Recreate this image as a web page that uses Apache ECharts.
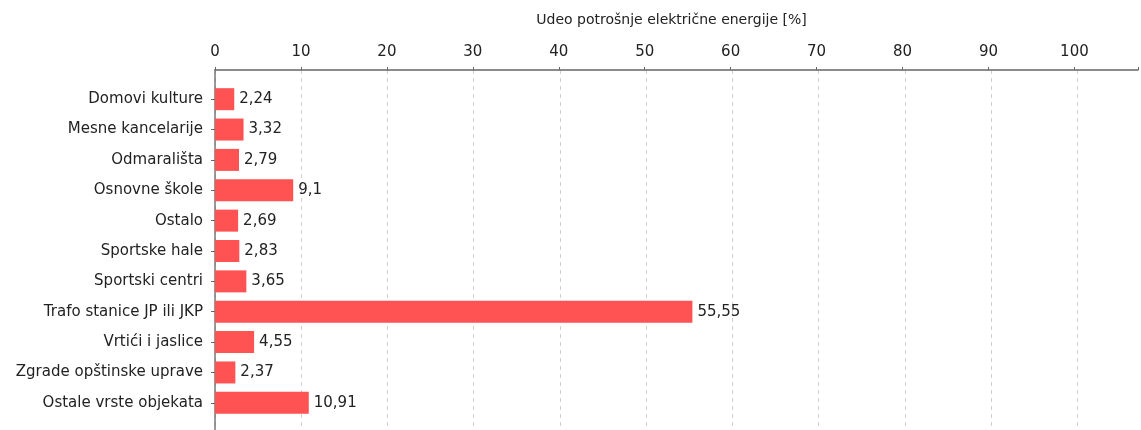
<!DOCTYPE html>
<html>
<head>
<meta charset="utf-8">
<script src="https://cdn.jsdelivr.net/npm/echarts@6/dist/echarts.min.js"></script>
<style>html,body{margin:0;padding:0;background:#fff;}#c{width:1141px;height:430px;}</style>
</head>
<body>
<div id="c"></div>
<script>
const categories = ["Domovi kulture","Mesne kancelarije","Odmarališta","Osnovne škole","Ostalo","Sportske hale","Sportski centri","Trafo stanice JP ili JKP","Vrtići i jaslice","Zgrade opštinske uprave","Ostale vrste objekata"];
const values = [2.24, 3.32, 2.79, 9.1, 2.69, 2.83, 3.65, 55.55, 4.55, 2.37, 10.91];
const axisTitle = "Udeo potrošnje električne energije [%]";
const xMax = 107.4;

const FONT = "DejaVu Sans";
const chart = echarts.init(document.getElementById('c'), null, {renderer: 'canvas'});
chart.setOption({
  animation: false,
  backgroundColor: '#fff',
  textStyle: {fontFamily: FONT},
  grid: [
    {left: 215, right: 0, top: 84, height: 334, containLabel: false},
    {left: 215, right: 0, top: 70, bottom: 0, containLabel: false}
  ],
  xAxis: [
    {
      gridIndex: 0, type: 'value', position: 'top', offset: 14,
      min: 0, max: xMax, interval: 10,
      name: axisTitle, nameLocation: 'middle', nameGap: 43,
      nameTextStyle: {fontFamily: FONT, fontSize: 14, color: '#222', padding: [0, 10, 0, 0]},
      axisLine: {show: true, lineStyle: {color: '#666', width: 1.5}},
      axisTick: {show: true, length: 3, lineStyle: {color: '#666'}},
      axisLabel: {fontFamily: FONT, fontSize: 15, color: '#222', margin: 10,
        formatter: v => (Math.abs(v % 10) < 1e-9 ? String(v) : '')},
      splitLine: {show: false}
    },
    {
      gridIndex: 1, type: 'value', min: 0, max: xMax, interval: 10,
      axisLine: {show: false}, axisTick: {show: false}, axisLabel: {show: false},
      splitLine: {show: true, lineStyle: {color: '#d0d0d0', type: [4, 4], width: 1}}
    }
  ],
  yAxis: [
    {
      gridIndex: 0, type: 'category', data: categories, inverse: true,
      axisLine: {show: false},
      axisTick: {show: true, alignWithLabel: true, length: 4, lineStyle: {color: '#666'}},
      axisLabel: {fontFamily: FONT, fontSize: 15, color: '#222', margin: 12}
    },
    {
      gridIndex: 1, type: 'value', min: 0, max: 1,
      axisLine: {show: true, lineStyle: {color: '#777', width: 1.5}},
      axisTick: {show: false}, axisLabel: {show: false}, splitLine: {show: false}
    }
  ],
  series: [{
    type: 'bar', xAxisIndex: 0, yAxisIndex: 0,
    data: values, barWidth: 22,
    itemStyle: {color: '#ff5252'},
    label: {show: true, position: 'right', distance: 5, fontFamily: FONT, fontSize: 15, color: '#222',
      formatter: p => String(p.value).replace('.', ',')}
  }]
});
</script>
</body>
</html>
